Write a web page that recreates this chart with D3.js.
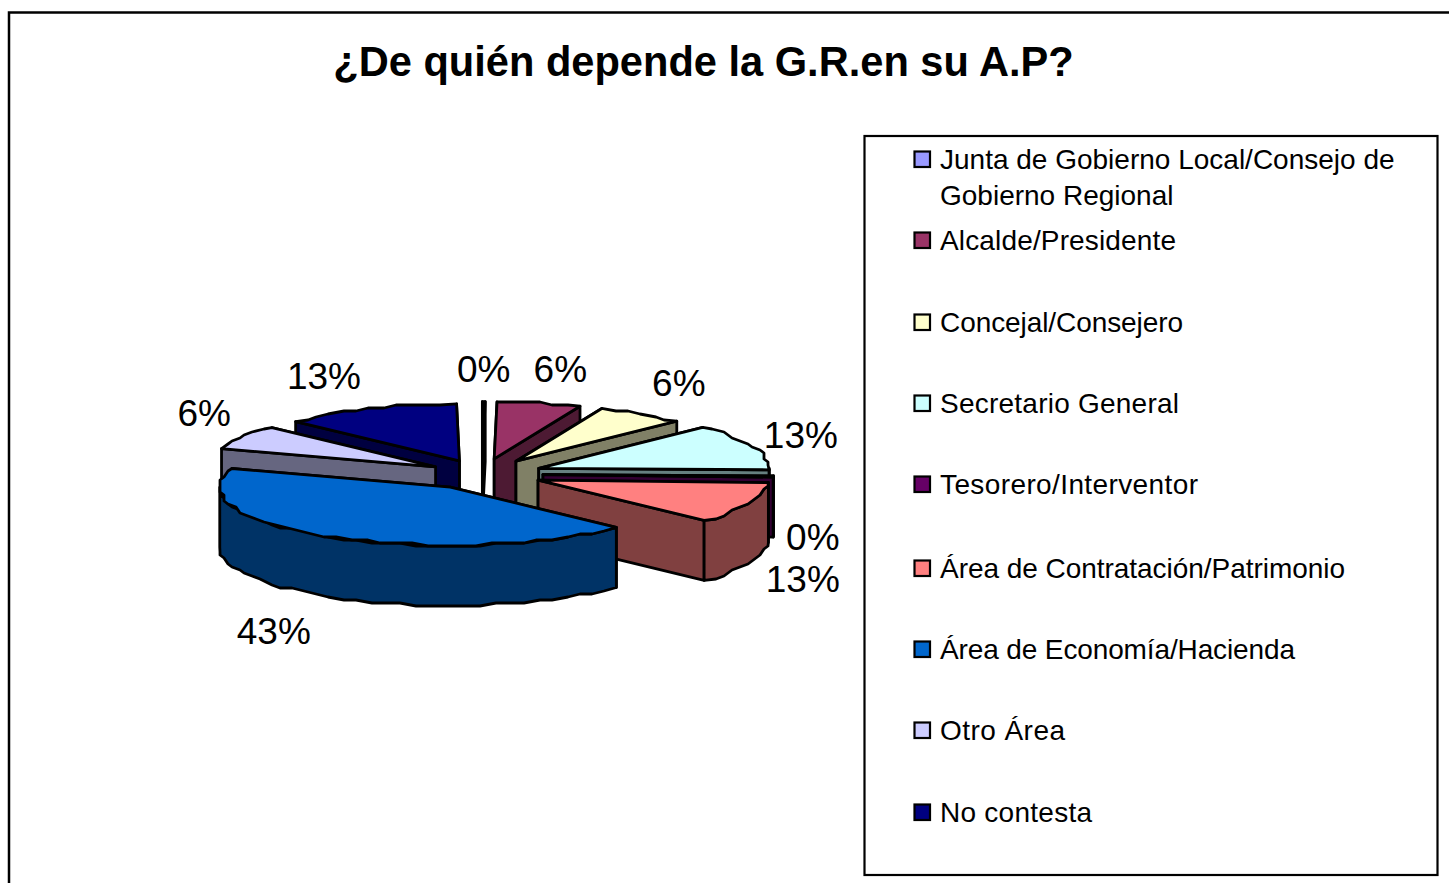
<!DOCTYPE html>
<html>
<head>
<meta charset="utf-8">
<script src="https://cdn.jsdelivr.net/npm/d3@7"></script>
<style>
  body { margin: 0; background: #fff; }
  text { font-family: "Liberation Sans", Arial, sans-serif; fill: #000; }
</style>
</head>
<body>
<div id="chart"></div>
<script>
const categories = [
    'Junta de Gobierno Local/Consejo de Gobierno Regional',
    'Alcalde/Presidente',
    'Concejal/Consejero',
    'Secretario General',
    'Tesorero/Interventor',
    'Área de Contratación/Patrimonio',
    'Área de Economía/Hacienda',
    'Otro Área',
    'No contesta'
];
const shares = [0.2, 6, 6.4, 12.8, 0.3, 11.5, 43, 6.9, 12.7];
const shareLabels = ['0%', '6%', '6%', '13%', '0%', '13%', '43%', '6%', '13%'];
const colors = ['#9999FF', '#993366', '#FFFFCC', '#CCFFFF', '#660066', '#FF8080', '#0066CC', '#CCCCFF', '#000080'];

const width = 1449;
const height = 883;

// pie layout
const cx = 482, cy = 474, rx = 226, ry = 57, depth = 60;
const explode = [0.27, 0.27, 0.27, 0.27, 0.27, 0.27, 0.27, 0.24, 0.25];
const grow = [1, 1, 1, 1.02, 1.02, 1.02, 1.02, 1, 1];  // front slices look a bit bigger
const labelNudge = [[0, -20], [21, -21], [37, -18], [52, 1], [44, 73], [57, 89], [-59, 108], [-38, -11], [-45, -20]];

// legend text is stretched to the widths in the picture
const legendBase = [169, 250, 332, 413, 494, 578, 659, 740, 822];
const legendWidths = [236, 236, 243, 239, 258, 405, 355, 125, 152];

const svg = d3.select('#chart')
    .append('svg')
    .attr('width', width)
    .attr('height', height);

svg.append('path')
    .attr('d', `M9,${height} V12.5 H${width}`)
    .attr('fill', 'none')
    .attr('stroke', '#000')
    .attr('stroke-width', 2.5);

svg.append('text')
    .attr('x', 703.5)
    .attr('y', 76)
    .attr('text-anchor', 'middle')
    .attr('font-size', 41.6)
    .attr('font-weight', 'bold')
    .text('¿De quién depende la G.R.en su A.P?');

const pie = d3.pie().sort(null).value(d => d)
    .startAngle(0).endAngle(2 * Math.PI * d3.sum(shares) / 100);
const slices = pie(shares).map((d, i) => {
    const mid = (d.startAngle + d.endAngle) / 2;
    return {
        i,
        start: d.startAngle,
        end: d.endAngle,
        mid,
        rx: rx * grow[i],
        ry: ry * grow[i],
        ax: cx + explode[i] * rx * Math.sin(mid),
        ay: cy - explode[i] * ry * Math.cos(mid)
    };
});

const line = d3.line();
const rim = (s, a, dz = 0) => [s.ax + s.rx * Math.sin(a), s.ay - s.ry * Math.cos(a) + dz];

// arcs are coarse and bumpy in the original, so snap the inner points to a grid
function arcPoints(s, a0, a1, dz = 0) {
    const n = Math.max(1, Math.ceil((a1 - a0) / (Math.PI / 45)));
    return d3.range(n + 1).map(k => {
        const p = rim(s, a0 + (a1 - a0) * k / n, dz);
        if (k === 0 || k === n) return p;
        return [Math.round(p[0] / 4) * 4, Math.round(p[1] / 3) * 3];
    });
}

function side(c) {
    const r = d3.rgb(c);
    return d3.rgb(r.r * 0.5, r.g * 0.5, r.b * 0.5).formatHex();
}

const pieG = svg.append('g')
    .attr('stroke', '#000')
    .attr('stroke-width', 2.8)
    .attr('stroke-linejoin', 'round');

// back slices first
slices.slice().sort((a, b) => d3.descending(Math.cos(a.mid), Math.cos(b.mid))).forEach(s => {
    const g = pieG.append('g');
    const dark = side(colors[s.i]);

    // cut faces, the one further back first
    [s.start, s.end]
        .sort((a, b) => d3.ascending(rim(s, a)[1], rim(s, b)[1]))
        .forEach(a => {
            const p = rim(s, a);
            g.append('path')
                .attr('fill', dark)
                .attr('d', line([[s.ax, s.ay], p, [p[0], p[1] + depth], [s.ax, s.ay + depth]]) + 'Z');
        });

    // outer wall, only the part that faces the viewer
    const a0 = Math.max(s.start, Math.PI / 2);
    const a1 = Math.min(s.end, 3 * Math.PI / 2);
    if (a1 > a0) {
        const pts = arcPoints(s, a0, a1).concat(arcPoints(s, a0, a1, depth).reverse());
        g.append('path')
            .attr('fill', dark)
            .attr('d', line(pts) + 'Z');
    }

    g.append('path')
        .attr('fill', colors[s.i])
        .attr('d', line([[s.ax, s.ay]].concat(arcPoints(s, s.start, s.end))) + 'Z');
});

svg.append('g')
    .attr('font-size', 37)
    .attr('text-anchor', 'middle')
    .selectAll('text')
    .data(slices)
    .join('text')
        .attr('x', d => d.ax + rx * Math.sin(d.mid) + labelNudge[d.i][0])
        .attr('y', d => d.ay - ry * Math.cos(d.mid) + labelNudge[d.i][1])
        .text(d => shareLabels[d.i]);

// legend
svg.append('rect')
    .attr('x', 864.5)
    .attr('y', 136)
    .attr('width', 573)
    .attr('height', 739)
    .attr('fill', '#fff')
    .attr('stroke', '#000')
    .attr('stroke-width', 2.2);

const legendY = d3.scaleOrdinal()
    .domain(categories)
    .range(legendBase);

const legend = svg.append('g')
    .selectAll('g')
    .data(categories)
    .join('g')
        .attr('transform', d => `translate(0, ${legendY(d)})`);

legend.append('rect')
    .attr('x', 914.5)
    .attr('y', -17.5)
    .attr('width', 15.5)
    .attr('height', 15.5)
    .attr('fill', (d, i) => colors[i])
    .attr('stroke', '#000')
    .attr('stroke-width', 2.2);

legend.append('text')
    .attr('font-size', 28)
    .each(function(d, i) {
        const t = d3.select(this);
        if (i === 0) {
            t.append('tspan').attr('x', 940).text('Junta de Gobierno Local/Consejo de');
            t.append('tspan').attr('x', 940).attr('dy', 36).text('Gobierno Regional');
        } else {
            t.attr('x', 940)
                .attr('textLength', legendWidths[i])
                .attr('lengthAdjust', 'spacing')
                .text(d);
        }
    });
</script>
</body>
</html>
